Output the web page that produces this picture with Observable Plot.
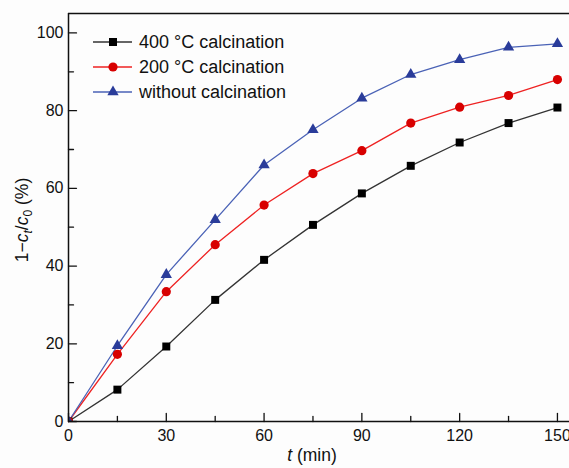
<!DOCTYPE html>
<html>
<head>
<meta charset="utf-8">
<script src="https://cdn.jsdelivr.net/npm/d3@7"></script>
<script src="https://cdn.jsdelivr.net/npm/@observablehq/plot@0.6"></script>
<style>
  html, body { margin: 0; padding: 0; background: #fdfdfd; }
  #chart svg { display: block; }
</style>
</head>
<body>
<div id="chart"></div>
<script>
const times = [0, 15, 30, 45, 60, 75, 90, 105, 120, 135, 150];
const calc400 = [0, 8.2, 19.3, 31.3, 41.6, 50.6, 58.7, 65.8, 71.8, 76.8, 80.8];
const calc200 = [0, 17.3, 33.4, 45.5, 55.7, 63.8, 69.7, 76.8, 80.9, 83.9, 88.0];
const noCalc  = [0, 19.5, 37.8, 51.9, 66.0, 75.1, 83.2, 89.3, 93.1, 96.3, 97.2];
const seriesNames = ["400 °C calcination", "200 °C calcination", "without calcination"];
const xTickLabels = [0, 30, 60, 90, 120, 150];
const yTickLabels = [0, 20, 40, 60, 80, 100];
const xMinor = [15, 45, 75, 105, 135];
const yMinor = [10, 30, 50, 70, 90];

const lineColors = ["#333333", "#ee2222", "#4a62b6"];
const markColors = ["#000000", "#d80000", "#2a3c9a"];
const symbols = ["square", "circle", "triangle"];
const radii = [4.5, 4.6, 4.2];

const allSeries = [calc400, calc200, noCalc];
const rows = [];
allSeries.forEach((vals, s) => vals.forEach((v, i) => rows.push({series: seriesNames[s], t: times[i], y: v, s})));

const tickShape = {draw(ctx, l) { ctx.moveTo(0, 0); ctx.lineTo(0, -l); }};

const marks = [];
allSeries.forEach((vals, s) => {
  const d = rows.filter(r => r.s === s);
  marks.push(Plot.line(d, {x: "t", y: "y", stroke: lineColors[s], strokeWidth: 1.3}));
});
allSeries.forEach((vals, s) => {
  const d = rows.filter(r => r.s === s);
  marks.push(Plot.dot(d, {x: "t", y: "y", symbol: () => symbols[s], r: radii[s], fill: markColors[s], stroke: "none", clip: true}));
});

// axes lines
marks.push(Plot.ruleY([0], {stroke: "#111", strokeWidth: 1.5}));
marks.push(Plot.ruleX([0], {stroke: "#111", strokeWidth: 1.5}));
marks.push(Plot.ruleY([105], {stroke: "#111", strokeWidth: 1.5}));
// ticks (inward)
marks.push(Plot.vector(xTickLabels, {x: d => d, y: 0, length: 8, rotate: 0, anchor: "start", shape: tickShape, stroke: "#111", strokeWidth: 1.3}));
marks.push(Plot.vector(xMinor, {x: d => d, y: 0, length: 5, rotate: 0, anchor: "start", shape: tickShape, stroke: "#111", strokeWidth: 1.3}));
marks.push(Plot.vector(yTickLabels, {x: 0, y: d => d, length: 8, rotate: 90, anchor: "start", shape: tickShape, stroke: "#111", strokeWidth: 1.3}));
marks.push(Plot.vector(yMinor, {x: 0, y: d => d, length: 5, rotate: 90, anchor: "start", shape: tickShape, stroke: "#111", strokeWidth: 1.3}));
marks.push(Plot.axisX(xTickLabels, {tickSize: 0, tickPadding: 8, label: null, fontSize: 16, fill: "#111"}));
marks.push(Plot.axisY(yTickLabels, {tickSize: 0, tickPadding: 5, label: null, fontSize: 16, fill: "#111"}));

const chart = Plot.plot({
  width: 569,
  height: 468,
  marginLeft: 68,
  marginRight: 0,
  marginTop: 13,
  marginBottom: 47,
  style: {fontFamily: "'Liberation Sans', Arial, sans-serif", background: "#fdfdfd", overflow: "visible"},
  x: {domain: [0, 153.7]},
  y: {domain: [0, 105]},
  marks
});

const svg = d3.select(chart);
// x axis label
const xl = svg.append("text").attr("x", 312).attr("y", 461).attr("text-anchor", "middle")
  .attr("font-size", 17.5).attr("fill", "#111");
xl.append("tspan").attr("font-style", "italic").text("t");
xl.append("tspan").text(" (min)");
// y axis label
const yl = svg.append("text").attr("transform", "translate(28,220) rotate(-90)").attr("text-anchor", "middle")
  .attr("font-size", 17.5).attr("fill", "#111");
yl.append("tspan").text("1−");
yl.append("tspan").attr("font-style", "italic").text("c");
yl.append("tspan").attr("font-style", "italic").attr("font-size", 12).attr("dy", 4).text("t");
yl.append("tspan").attr("dy", -4).text("/");
yl.append("tspan").attr("font-style", "italic").text("c");
yl.append("tspan").attr("font-size", 12).attr("dy", 4).text("0");
yl.append("tspan").attr("dy", -4).text(" (%)");

// legend
const lg = svg.append("g").attr("text-anchor", "start");
const symGen = [d3.symbolSquare, d3.symbolCircle, d3.symbolTriangle];
seriesNames.forEach((name, s) => {
  const yy = 42 + s * 25;
  lg.append("line").attr("x1", 93).attr("x2", 132).attr("y1", yy).attr("y2", yy)
    .attr("stroke", lineColors[s]).attr("stroke-width", 1.3);
  lg.append("path").attr("transform", `translate(113,${yy})`)
    .attr("d", d3.symbol(symGen[s], radii[s] * radii[s] * Math.PI)())
    .attr("fill", markColors[s]);
  lg.append("text").attr("x", 139).attr("y", yy).attr("dy", "0.35em")
    .attr("text-anchor", "start")
    .attr("font-size", 18).attr("fill", "#111").text(name);
});

document.getElementById("chart").appendChild(chart);
</script>
</body>
</html>
